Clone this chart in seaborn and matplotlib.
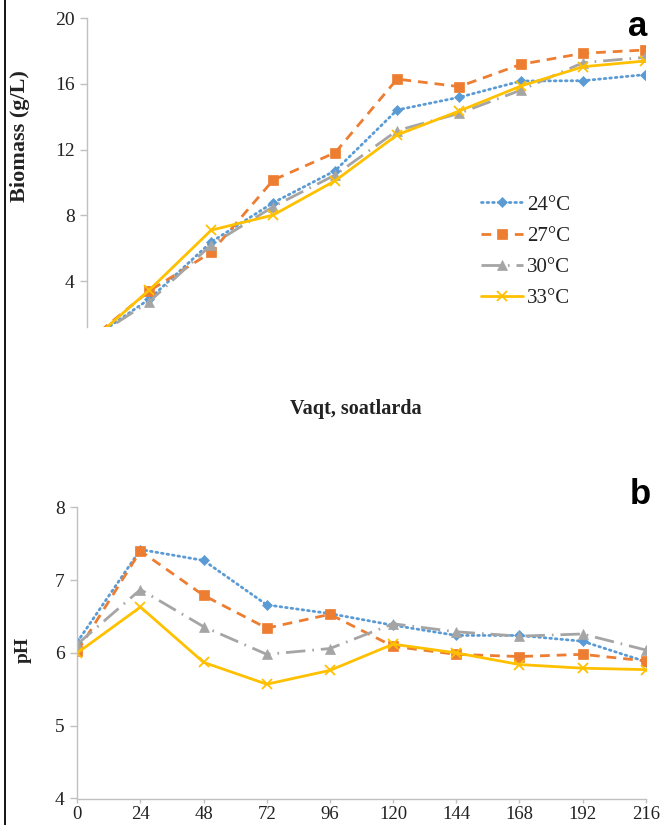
import numpy as np
import pandas as pd
import matplotlib
matplotlib.use("Agg")
import matplotlib.pyplot as plt
import seaborn as sns
from matplotlib.lines import Line2D

# ---------------- data ----------------
hours = [0, 24, 48, 72, 96, 120, 144, 168, 192, 216]
series = ["24°C", "27°C", "30°C", "33°C"]

biomass_24 = [0.30, 2.90, 6.38, 8.77, 10.72, 14.42, 15.19, 16.18, 16.20, 16.57]
biomass_27 = [0.30, 3.40, 5.75, 10.15, 11.82, 16.30, 15.84, 17.20, 17.87, 18.07]
biomass_30 = [0.30, 2.74, 6.20, 8.53, 10.46, 13.16, 14.21, 15.63, 17.30, 17.62]
biomass_33 = [0.15, 3.45, 7.10, 8.02, 10.11, 12.90, 14.35, 15.88, 17.05, 17.40]

ph_24 = [6.15, 7.42, 7.27, 6.66, 6.54, 6.38, 6.24, 6.24, 6.16, 5.88]
ph_27 = [6.02, 7.40, 6.79, 6.34, 6.53, 6.09, 5.98, 5.95, 5.98, 5.89]
ph_30 = [6.12, 6.87, 6.36, 5.98, 6.06, 6.40, 6.29, 6.23, 6.26, 6.04]
ph_33 = [6.00, 6.63, 5.87, 5.57, 5.76, 6.12, 6.00, 5.84, 5.79, 5.77]

biomass_yticks = [4, 8, 12, 16, 20]
ph_yticks = [4, 5, 6, 7, 8]
xtick_labels = [str(h) for h in hours]

biomass = dict(zip(series, [biomass_24, biomass_27, biomass_30, biomass_33]))
ph = dict(zip(series, [ph_24, ph_27, ph_30, ph_33]))

df_bio = pd.DataFrame([(s, h, v) for s in series for h, v in zip(hours, biomass[s])],
                      columns=["series", "hours", "value"])
df_ph = pd.DataFrame([(s, h, v) for s in series for h, v in zip(hours, ph[s])],
                     columns=["series", "hours", "value"])

# ---------------- style ----------------
sns.set_theme(style="white")
plt.rcParams["font.family"] = ["Liberation Serif", "DejaVu Serif"]

colors = {"24°C": "#5B9BD5", "27°C": "#ED7D31", "30°C": "#A5A5A5", "33°C": "#FFC000"}
lstyles = {"24°C": (0, (0.6, 1.4)), "27°C": (0, (3.5, 2.5)),
           "30°C": (0, (7, 2.5, 0.6, 2.5)), "33°C": "-"}
markers = {"24°C": "D", "27°C": "s", "30°C": "^", "33°C": "x"}
msizes = {"24°C": 5, "27°C": 6.5, "30°C": 6.5, "33°C": 6.5}

spine_col = "#c0c0c0"
txt_col = "#222222"

W, H = 662, 825
fig = plt.figure(figsize=(W / 100, H / 100), dpi=100)


def px_axes(left, right, top, bottom):
    return fig.add_axes([left / W, 1 - bottom / H, (right - left) / W, (bottom - top) / H])


ax1 = px_axes(87.3, 645, 18.3, 326.7)
ax2 = px_axes(77.3, 645.7, 507.3, 798.5)


def draw(ax, df):
    for s in series:
        sub = df[df["series"] == s]
        sns.lineplot(data=sub, x="hours", y="value", ax=ax, color=colors[s],
                     linestyle=lstyles[s], marker=markers[s], markersize=msizes[s],
                     markeredgecolor=colors[s], markeredgewidth=1.3 if s == "33°C" else 0.5,
                     linewidth=2.0, label=s, legend=False)
        line = ax.lines[-1]
        line.set_dash_capstyle("round" if s == "24°C" else "butt")


draw(ax1, df_bio)
draw(ax2, df_ph)

# top panel
ax1.set_xlim(0, 216)
ax1.set_ylim(1.22, 20)
ax1.set_yticks(biomass_yticks)
ax1.set_xticks([])
for sp in ["top", "right", "bottom"]:
    ax1.spines[sp].set_visible(False)
ax1.spines["left"].set_color(spine_col)
ax1.spines["left"].set_linewidth(1.0)
ax1.tick_params(axis="y", direction="out", length=5, width=1, color=spine_col,
                labelsize=14, labelcolor=txt_col, pad=4, left=True)
ax1.set_xlabel("")
ax1.set_ylabel("Biomass (g/L)", fontsize=16, fontweight="bold", color=txt_col)
ax1.yaxis.set_label_coords((30 - 87.3) / 557.7, (326.7 - 136.5) / 308.4)

handles = [ax1.lines[i] for i in range(4)]
leg = ax1.legend(handles, series, loc="upper left", frameon=False,
                 bbox_to_anchor=((481 - 87.3) / 557.7, (326.7 - 195) / 308.4),
                 borderaxespad=0, borderpad=0, handlelength=2.0, handletextpad=0.2,
                 labelspacing=0.56, fontsize=15, numpoints=1)
for t in leg.get_texts():
    t.set_color(txt_col)

# bottom panel
ax2.set_xlim(0, 216)
ax2.set_ylim(4, 8)
ax2.set_yticks(ph_yticks)
ax2.set_xticks(hours)
ax2.set_xticklabels(xtick_labels)
for sp in ["top", "right"]:
    ax2.spines[sp].set_visible(False)
for sp in ["left", "bottom"]:
    ax2.spines[sp].set_color(spine_col)
    ax2.spines[sp].set_linewidth(1.0)
ax2.tick_params(axis="y", direction="out", length=5, width=1, color=spine_col,
                labelsize=14, labelcolor=txt_col, pad=4, left=True)
ax2.tick_params(axis="x", direction="out", length=3, width=1, color=spine_col,
                labelsize=13.5, labelcolor=txt_col, pad=2.5, bottom=True)
ax2.set_xlabel("")
ax2.set_ylabel("pH", fontsize=14, fontweight="bold", color=txt_col)
ax2.yaxis.set_label_coords((32 - 77.3) / 568.4, (798.5 - 650) / 291.2)

# figure texts
fig.text(356 / W, 1 - 409 / H, "Vaqt, soatlarda", ha="center", va="center",
         fontsize=14.5, fontweight="bold", color=txt_col)
fig.text(638 / W, 1 - 26 / H, "a", ha="center", va="center", fontsize=25,
         fontweight="bold", family=["Liberation Sans", "DejaVu Sans"], color="black")
fig.text(640 / W, 1 - 495 / H, "b", ha="center", va="center", fontsize=25,
         fontweight="bold", family=["Liberation Sans", "DejaVu Sans"], color="black")

# left border line
fig.add_artist(Line2D([4.5 / W, 4.5 / W], [0, 1], color="black", lw=1.3,
                      transform=fig.transFigure))

fig.savefig("out.png", dpi=100)
